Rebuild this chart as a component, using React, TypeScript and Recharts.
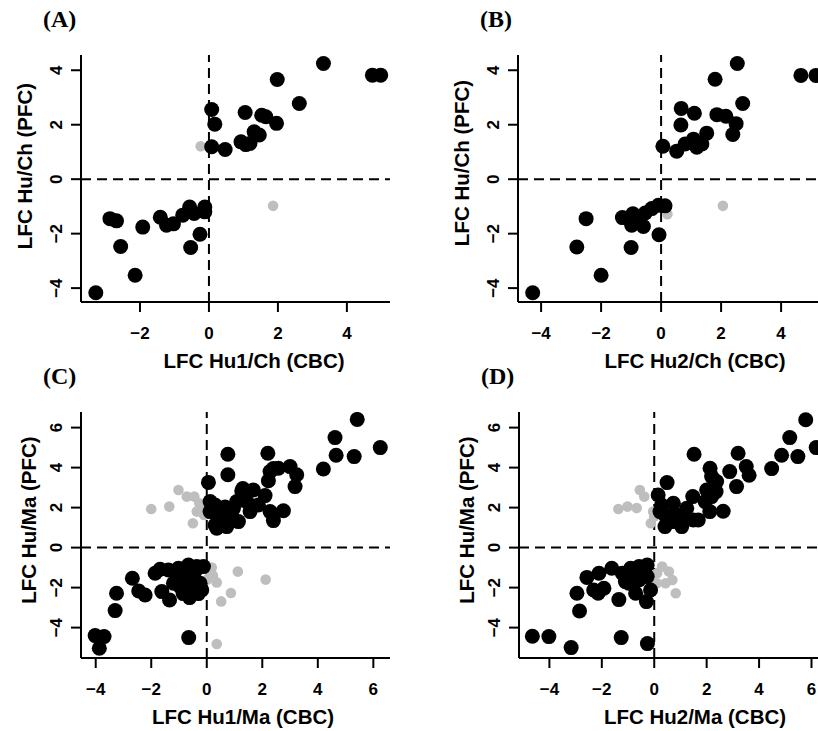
import { ScatterChart, Scatter, XAxis, YAxis, ReferenceLine } from 'recharts'

type Pt = [number, number]

// (A) Hu1/Ch (CBC) vs Hu/Ch (PFC)
const aConcordant: Pt[] = [
  [-3.28, -4.17], [-2.14, -3.53], [-2.56, -2.47], [-2.87, -1.45], [-2.68, -1.53],
  [-1.92, -1.76], [-1.41, -1.4], [-1.23, -1.69], [-1.03, -1.64], [-0.76, -1.32],
  [-0.56, -1.02], [-0.43, -1.26], [-0.12, -1.02], [-0.12, -1.2], [-0.26, -2.02],
  [-0.53, -2.51], [0.08, 2.56], [0.17, 2.02], [0.08, 1.19], [0.47, 1.09],
  [1.05, 2.45], [0.93, 1.37], [1.07, 1.27], [1.19, 1.31], [1.31, 1.74],
  [1.46, 1.62], [1.53, 2.35], [1.65, 2.29], [1.96, 2.05], [1.98, 3.66],
  [2.62, 2.78], [3.32, 4.25], [4.74, 3.82], [4.98, 3.82],
]
const aDiscordant: Pt[] = [[-0.24, 1.21], [1.86, -0.98]]

// (B) Hu2/Ch (CBC) vs Hu/Ch (PFC)
const bConcordant: Pt[] = [
  [-4.28, -4.17], [-2.0, -3.53], [-2.81, -2.49], [-2.5, -1.45], [-1.0, -2.51],
  [-1.29, -1.41], [-0.94, -1.27], [-0.98, -1.69], [-0.81, -1.57], [-0.59, -1.74],
  [-0.53, -1.24], [-0.31, -1.08], [-0.09, -0.96], [0.13, -0.98], [-0.07, -2.04],
  [0.06, 1.21], [0.52, 1.03], [0.67, 2.6], [0.66, 1.99], [1.11, 2.42],
  [0.8, 1.29], [1.08, 1.47], [1.19, 1.17], [1.36, 1.29], [1.52, 1.69],
  [1.8, 3.67], [1.86, 2.37], [2.16, 2.31], [2.5, 2.04], [2.39, 1.64],
  [2.54, 4.25], [2.72, 2.78], [4.66, 3.81], [5.16, 3.81],
]
const bDiscordant: Pt[] = [[0.21, -1.29], [2.06, -0.98]]

// (C) Hu1/Ma (CBC) vs Hu/Ma (PFC)
const cConcordant: Pt[] = [
  [5.42, 6.41], [4.62, 5.5], [6.25, 5.0], [4.66, 4.62], [5.31, 4.55],
  [4.2, 3.93], [0.76, 4.67], [2.2, 4.72], [0.76, 3.64], [0.06, 3.26],
  [2.28, 3.8], [2.58, 3.97], [3.0, 4.05], [3.24, 3.64], [3.18, 3.05],
  [2.22, 3.34], [1.26, 2.83], [1.68, 2.88], [2.1, 2.6], [1.44, 2.3],
  [1.08, 2.3], [1.86, 2.13], [2.28, 1.8], [2.76, 1.84], [2.4, 1.35],
  [1.56, 1.8], [1.14, 1.3], [0.12, 2.3], [0.3, 2.13], [0.36, 1.63],
  [0.72, 1.63], [0.3, 1.13], [0.72, 1.05], [0.48, 1.38], [0.96, 1.38],
  [0.12, 1.8], [0.36, 0.97], [0.96, 1.95], [0.66, 2.03], [1.3, 2.95],
  [2.4, 3.95],
  [-4.02, -4.4], [-3.7, -4.45], [-3.87, -5.03], [-3.3, -3.15], [-3.25, -2.28],
  [-2.68, -1.53], [-2.45, -2.17], [-2.22, -2.37], [-0.65, -4.5], [-1.68, -1.08],
  [-1.38, -1.12], [-1.62, -2.2], [-1.34, -2.62], [-1.02, -1.03], [-0.66, -0.87],
  [-0.36, -0.95], [-0.12, -0.95], [-1.08, -1.53], [-0.78, -1.45], [-0.48, -1.45],
  [-0.24, -1.78], [-0.96, -1.95], [-0.6, -1.95], [-0.62, -2.5], [-0.18, -2.12],
  [-1.2, -1.78], [-1.86, -1.28], [-0.9, -1.2], [-0.4, -1.15], [-0.3, -2.3],
  [-0.85, -2.3],
]
const cDiscordant: Pt[] = [
  [-2.0, 1.93], [-1.35, 2.05], [-1.02, 2.88], [-0.72, 2.55], [-0.45, 2.55],
  [-0.27, 2.22], [-0.36, 1.8], [-0.5, 1.22], [-0.1, 1.63], [-0.24, 2.0],
  [0.18, -1.0], [0.12, -1.3], [0.36, -1.74], [0.02, -1.6], [1.12, -1.2],
  [2.12, -1.6], [0.87, -2.27], [0.52, -2.69], [0.36, -4.82], [0.22, -1.4],
]

// (D) Hu2/Ma (CBC) vs Hu/Ma (PFC)
const dConcordant: Pt[] = [
  [5.78, 6.39], [5.17, 5.5], [6.18, 5.0], [4.86, 4.62], [5.48, 4.55],
  [4.48, 3.95], [1.52, 4.67], [3.2, 4.72], [0.49, 3.25], [2.13, 3.97],
  [2.19, 3.55], [2.88, 3.8], [3.51, 4.05], [3.62, 3.62], [3.14, 3.05],
  [2.38, 3.3], [2.0, 2.88], [2.19, 2.55], [1.47, 2.55], [1.94, 2.3],
  [2.12, 1.8], [2.63, 1.82], [0.15, 2.63], [0.28, 2.13], [0.73, 2.22],
  [0.41, 1.63], [0.79, 1.63], [1.05, 1.63], [0.41, 1.05], [1.05, 1.05],
  [1.49, 1.38], [1.68, 1.38], [1.24, 1.47], [0.73, 1.3], [0.22, 1.8],
  [1.24, 1.97], [2.36, 2.8],
  [-4.65, -4.43], [-4.02, -4.45], [-3.17, -5.0], [-1.26, -4.5], [-0.26, -4.8],
  [-2.85, -3.17], [-2.95, -2.28], [-2.57, -1.49], [-2.11, -1.28], [-2.31, -2.12],
  [-1.92, -2.03], [-1.62, -1.03], [-1.35, -2.6], [-1.22, -1.28], [-0.9, -1.03],
  [-0.58, -0.95], [-0.27, -0.87], [-0.97, -1.78], [-0.58, -1.62], [-0.27, -1.45],
  [-0.3, -2.7], [-0.71, -2.28], [-0.14, -2.12], [-1.1, -1.7], [-2.14, -2.28],
  [-0.45, -1.2], [-0.8, -1.4],
]
const dDiscordant: Pt[] = [
  [-1.37, 1.93], [-1.02, 2.05], [-0.67, 1.98], [-0.55, 2.88], [-0.38, 2.55],
  [-0.04, 1.8], [-0.13, 1.22], [0.0, 1.55],
  [0.11, -1.28], [0.56, -1.2], [0.3, -0.95], [0.69, -1.62], [0.43, -1.78],
  [0.82, -2.28], [0.1, -1.78],
]

const ticksChX = [-2, 0, 2, 4]
const ticksCh2X = [-4, -2, 0, 2, 4]
const ticksChY = [-4, -2, 0, 2, 4]
const ticksMaX = [-4, -2, 0, 2, 4, 6]
const ticksMaY = [-4, -2, 0, 2, 4, 6]

const SANS = '"Liberation Sans", Arial, Helvetica, sans-serif'
const SERIF = '"Liberation Serif", "Times New Roman", serif'

const Y_AXIS_W = 81
const X_AXIS_H = 50
const PAD = 10

const fmt = (v: number) => (v < 0 ? `\u2212${-v}` : `${v}`)
const toRows = (pts: Pt[]) => pts.map(([x, y]) => ({ x, y }))

const BlackDot = (p: any) => <circle cx={p.cx} cy={p.cy} r={7.5} fill="#000" />
const GreyDot = (p: any) => <circle cx={p.cx} cy={p.cy} r={5.3} fill="#bebebe" />

function XTick({ x, y, payload }: any) {
  return (
    <text x={x} y={y + 27} textAnchor="middle" fontFamily={SANS} fontWeight="bold" fontSize={17} fill="#000">
      {fmt(payload.value)}
    </text>
  )
}

function YTick({ x, y, payload }: any) {
  const bx = x - 9
  return (
    <text
      x={bx}
      y={y}
      transform={`rotate(-90 ${bx} ${y})`}
      textAnchor="middle"
      fontFamily={SANS}
      fontWeight="bold"
      fontSize={17}
      fill="#000"
    >
      {fmt(payload.value)}
    </text>
  )
}

interface PanelDef {
  tag: string
  left: number
  top: number
  w: number
  h: number
  xDomain: [number, number]
  yDomain: [number, number]
  xTicks: number[]
  yTicks: number[]
  concordant: Pt[]
  discordant: Pt[]
  xTitle: string
  yTitle: string
  xTitleCx: number
  yTitleCy: number
  yTitleGap: number
}

const panels: PanelDef[] = [
  {
    tag: '(A)', left: 81, top: 55, w: 309, h: 247,
    xDomain: [-3.71, 5.25], yDomain: [-4.51, 4.56], xTicks: ticksChX, yTicks: ticksChY,
    concordant: aConcordant, discordant: aDiscordant,
    xTitle: 'LFC Hu1/Ch (CBC)', yTitle: 'LFC Hu/Ch (PFC)', xTitleCx: 254, yTitleCy: 166, yTitleGap: 49,
  },
  {
    tag: '(B)', left: 518, top: 55, w: 309, h: 247,
    xDomain: [-4.77, 5.53], yDomain: [-4.51, 4.56], xTicks: ticksCh2X, yTicks: ticksChY,
    concordant: bConcordant, discordant: bDiscordant,
    xTitle: 'LFC Hu2/Ch (CBC)', yTitle: 'LFC Hu/Ch (PFC)', xTitleCx: 695, yTitleCy: 163, yTitleGap: 49,
  },
  {
    tag: '(C)', left: 81, top: 412, w: 309, h: 246,
    xDomain: [-4.53, 6.6], yDomain: [-5.52, 6.78], xTicks: ticksMaX, yTicks: ticksMaY,
    concordant: cConcordant, discordant: cDiscordant,
    xTitle: 'LFC Hu1/Ma (CBC)', yTitle: 'LFC Hu/Ma (PFC)', xTitleCx: 243, yTitleCy: 520, yTitleGap: 45,
  },
  {
    tag: '(D)', left: 519, top: 412, w: 309, h: 246,
    xDomain: [-5.16, 6.63], yDomain: [-5.52, 6.78], xTicks: ticksMaX, yTicks: ticksMaY,
    concordant: dConcordant, discordant: dDiscordant,
    xTitle: 'LFC Hu2/Ma (CBC)', yTitle: 'LFC Hu/Ma (PFC)', xTitleCx: 695, yTitleCy: 520, yTitleGap: 45,
  },
]

function Panel({ p }: { p: PanelDef }) {
  const axisStroke = { stroke: '#000', strokeWidth: 2 }
  return (
    <div style={{ position: 'absolute', left: p.left - Y_AXIS_W, top: p.top - PAD }}>
      <ScatterChart
        width={Y_AXIS_W + p.w + PAD}
        height={PAD + p.h + X_AXIS_H}
        margin={{ top: PAD, right: PAD, bottom: 0, left: 0 }}
      >
        <XAxis
          type="number"
          dataKey="x"
          domain={p.xDomain}
          ticks={p.xTicks}
          allowDataOverflow
          height={X_AXIS_H}
          tickSize={10}
          tickMargin={0}
          axisLine={axisStroke}
          tickLine={axisStroke}
          tick={<XTick />}
        />
        <YAxis
          type="number"
          dataKey="y"
          domain={p.yDomain}
          ticks={p.yTicks}
          allowDataOverflow
          width={Y_AXIS_W}
          tickSize={10}
          tickMargin={0}
          axisLine={axisStroke}
          tickLine={axisStroke}
          tick={<YTick />}
        />
        <ReferenceLine x={0} stroke="#000" strokeWidth={2} strokeDasharray="10 6" />
        <ReferenceLine y={0} stroke="#000" strokeWidth={2} strokeDasharray="10 6" />
        <Scatter data={toRows(p.discordant)} shape={GreyDot} isAnimationActive={false} />
        <Scatter data={toRows(p.concordant)} shape={BlackDot} isAnimationActive={false} />
      </ScatterChart>
    </div>
  )
}

export default function App() {
  return (
    <div
      style={{
        position: 'absolute',
        left: 0,
        top: 0,
        width: 818,
        height: 731,
        overflow: 'hidden',
        background: '#fff',
      }}
    >
      {panels.map((p) => (
        <Panel key={p.tag} p={p} />
      ))}
      <svg width={818} height={731} style={{ position: 'absolute', left: 0, top: 0, pointerEvents: 'none' }}>
        {panels.map((p) => {
          const axisY = p.top + p.h
          const bx = p.left - p.yTitleGap
          return (
            <g key={p.tag}>
              <text x={p.left - 38} y={p.top - 28} fontFamily={SERIF} fontWeight="bold" fontSize={24} fill="#000">
                {p.tag}
              </text>
              <text
                x={p.xTitleCx}
                y={axisY + 66}
                textAnchor="middle"
                fontFamily={SANS}
                fontWeight="bold"
                fontSize={20.5}
                fill="#000"
              >
                {p.xTitle}
              </text>
              <text
                x={bx}
                y={p.yTitleCy}
                transform={`rotate(-90 ${bx} ${p.yTitleCy})`}
                textAnchor="middle"
                fontFamily={SANS}
                fontWeight="bold"
                fontSize={20.5}
                fill="#000"
              >
                {p.yTitle}
              </text>
            </g>
          )
        })}
      </svg>
    </div>
  )
}
